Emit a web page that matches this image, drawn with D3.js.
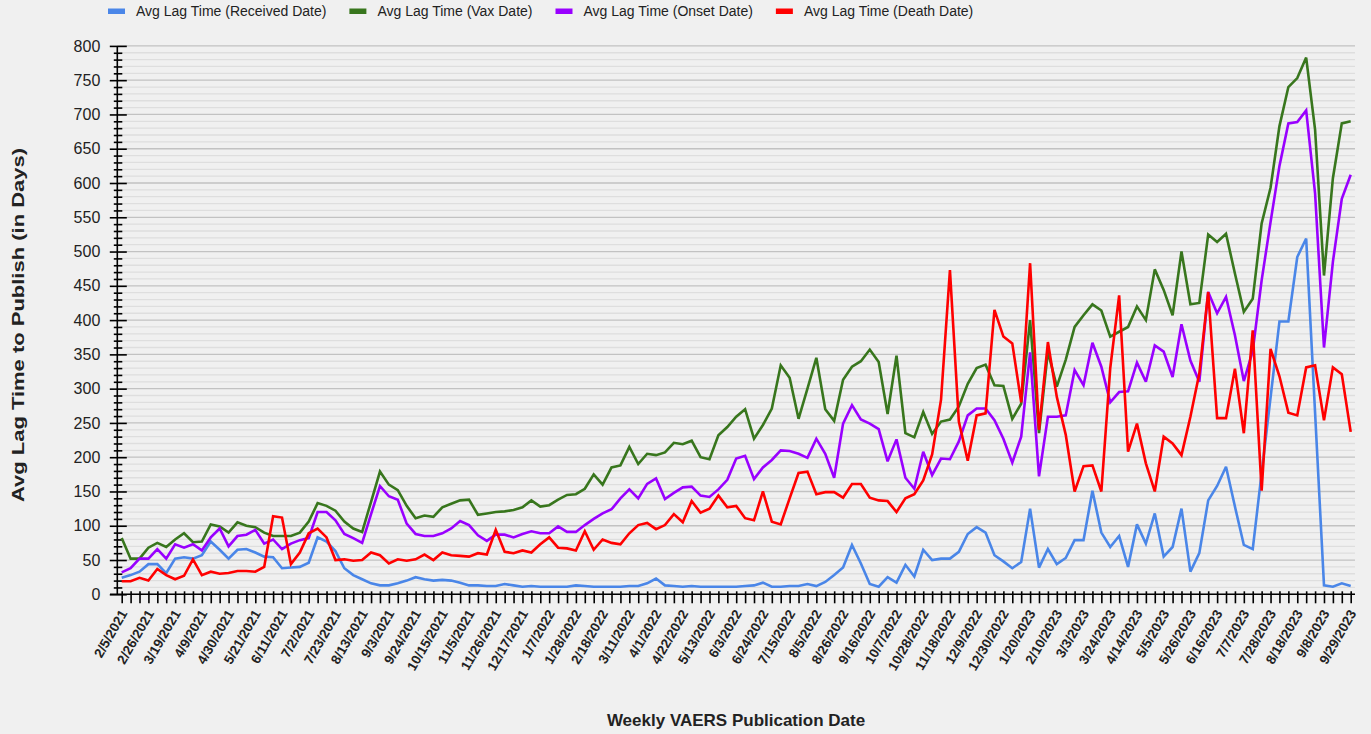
<!DOCTYPE html>
<html><head><meta charset="utf-8">
<script src="https://cdn.jsdelivr.net/npm/d3@7"></script>
<style>
html,body{margin:0;padding:0;background:#f0f0f0;}
svg{display:block;font-family:Arial,"Liberation Sans",sans-serif;}
</style></head><body>
<svg id="chart" width="1371" height="734"></svg>
<script>
// ---- data ----
const firstWeek = "2021-02-05";
const weekCount = 139;
const tickLabels = ["2/5/2021","2/26/2021","3/19/2021","4/9/2021","4/30/2021","5/21/2021","6/11/2021","7/2/2021","7/23/2021","8/13/2021","9/3/2021","9/24/2021","10/15/2021","11/5/2021","11/26/2021","12/17/2021","1/7/2022","1/28/2022","2/18/2022","3/11/2022","4/1/2022","4/22/2022","5/13/2022","6/3/2022","6/24/2022","7/15/2022","8/5/2022","8/26/2022","9/16/2022","10/7/2022","10/28/2022","11/18/2022","12/9/2022","12/30/2022","1/20/2023","2/10/2023","3/3/2023","3/24/2023","4/14/2023","5/5/2023","5/26/2023","6/16/2023","7/7/2023","7/28/2023","8/18/2023","9/8/2023","9/29/2023"];
const seriesNames = ["Avg Lag Time (Received Date)","Avg Lag Time (Vax Date)","Avg Lag Time (Onset Date)","Avg Lag Time (Death Date)"];
const seriesColors = ["#4a86e8","#38761d","#9900ff","#ff0000"];
const yTickValues = [0,50,100,150,200,250,300,350,400,450,500,550,600,650,700,750,800];

const received = [24,28,33,44,44,31,52,54,52,57,77,65,52,65,66,61,55,54,38,39,40,46,83,77,63,38,28,22,16,13,13,16,20,25,22,20,21,20,17,13,13,12,12,15,13,11,12,11,11,11,11,13,12,11,11,11,11,12,12,16,23,13,12,11,12,11,11,11,11,11,12,13,17,11,11,12,12,15,12,18,28,39,72,45,15,11,25,17,43,26,65,50,52,52,62,88,98,90,57,48,38,47,125,39,66,44,53,79,79,151,90,69,85,40,102,74,118,55,69,125,33,60,137,158,186,128,72,66,177,287,398,398,492,519,265,13,11,16,12];
const vax = [82,52,52,68,75,69,80,89,76,77,102,99,90,105,100,98,90,85,85,85,90,106,133,129,122,106,96,91,135,179,160,152,129,111,115,113,127,132,137,138,116,118,120,121,123,127,137,128,130,138,145,146,154,175,160,185,188,215,190,205,203,207,221,219,224,200,197,232,244,259,270,227,247,271,334,316,256,300,345,270,253,313,332,340,357,339,263,348,235,229,266,234,252,255,274,307,330,335,305,304,256,278,400,235,354,303,342,390,407,423,414,376,383,390,420,400,474,444,407,500,423,425,525,514,526,468,412,431,541,593,683,740,753,783,678,465,607,687,690];
const onset = [32,38,52,52,66,52,73,68,73,64,83,96,70,85,87,94,74,80,66,74,79,82,120,120,108,88,82,75,117,158,143,138,103,88,85,85,89,96,107,101,86,78,87,87,83,88,92,89,89,99,91,91,101,110,118,124,140,153,140,161,169,139,148,156,157,144,142,153,167,198,202,168,185,196,210,209,205,199,227,205,170,249,276,255,249,241,194,226,170,154,208,174,198,197,223,261,271,271,254,227,192,230,353,172,259,259,261,327,305,367,332,280,295,296,338,310,363,354,317,394,341,310,441,410,434,378,311,355,458,543,625,687,689,706,585,360,485,577,612];
const death = [19,19,24,20,37,28,22,27,51,28,33,30,31,34,34,33,40,114,112,44,61,89,96,83,50,51,49,50,61,57,45,51,49,51,58,50,61,57,56,55,60,58,94,62,60,64,61,73,83,68,67,64,92,65,80,75,73,89,101,104,95,101,117,105,136,119,125,144,127,129,111,108,150,106,102,140,177,179,146,149,149,141,161,161,141,137,136,120,140,146,166,204,284,473,252,195,261,264,415,376,366,280,483,240,368,288,233,150,187,188,150,330,436,208,249,191,150,230,220,203,259,322,441,257,257,329,235,385,151,358,318,265,261,331,334,254,331,321,237];

// ---- build ----
const parse = d3.utcParse("%Y-%m-%d");
const weeks = d3.range(weekCount).map(i => d3.utcDay.offset(parse(firstWeek), 7 * i));
const fmt = d => `${d.getUTCMonth() + 1}/${d.getUTCDate()}/${d.getUTCFullYear()}`;
const labelSet = new Set(tickLabels);
const series = [received, vax, onset, death].map((vals, k) => ({
  name: seriesNames[k], color: seriesColors[k],
  points: vals.map((v, i) => ({ date: weeks[i], value: v }))
}));

const svg = d3.select("#chart");
const axisX = 117.3, plotRight = 1355;
const x = d3.scaleUtc().domain([weeks[0], weeks[weeks.length - 1]]).range([121.7, 1350.7]);
const y = d3.scaleLinear().domain([0, 800]).range([594.3, 45.9]);

// grid
const gridVals = d3.range(0, 801, 10);
svg.append("g").selectAll("line").data(gridVals).join("line")
  .attr("x1", axisX).attr("x2", plotRight)
  .attr("y1", d => y(d)).attr("y2", d => y(d))
  .attr("stroke", d => d % 50 === 0 ? "#c2c2c2" : "#dedede")
  .attr("stroke-width", 1.3);

// y axis
const yAxis = svg.append("g").attr("transform", `translate(${axisX},0)`)
  .call(d3.axisLeft(y).tickValues(gridVals).tickSize(0)
    .tickFormat(d => yTickValues.includes(d) ? d : ""));
yAxis.select(".domain").remove();
yAxis.selectAll(".tick line")
  .attr("x1", d => d % 50 === 0 ? -7.5 : -3.5)
  .attr("x2", d => d % 50 === 0 ? 9.5 : 5)
  .attr("stroke", "#000").attr("stroke-width", 1.6);
yAxis.selectAll(".tick text").attr("x", -17).attr("font-size", 16)
  .attr("fill", "#222").attr("font-family", "Arial, 'Liberation Sans', sans-serif");
svg.append("line").attr("x1", axisX).attr("x2", axisX).attr("y1", y(800)).attr("y2", y(0))
  .attr("stroke", "#000").attr("stroke-width", 1.6);

// x axis
const xAxis = svg.append("g").attr("transform", `translate(0,${y(0)})`)
  .call(d3.axisBottom(x).tickValues(weeks).tickSize(0).tickFormat(""));
xAxis.select(".domain").remove();
xAxis.selectAll(".tick line").attr("y1", -3).attr("y2", 9)
  .attr("stroke", "#000").attr("stroke-width", 1.6);
svg.append("line").attr("x1", 110).attr("x2", plotRight).attr("y1", y(0)).attr("y2", y(0))
  .attr("stroke", "#000").attr("stroke-width", 1.6);
svg.append("g").selectAll("text").data(weeks.filter(d => labelSet.has(fmt(d)))).join("text")
  .attr("transform", d => `translate(${x(d) + 6},${y(0) + 19}) rotate(-60)`)
  .attr("text-anchor", "end").attr("font-size", 13.5).attr("font-weight", "bold")
  .attr("fill", "#222").text(d => fmt(d));

// lines
const line = d3.line().x(d => x(d.date)).y(d => y(d.value));
svg.append("g").selectAll("path").data(series).join("path")
  .attr("d", d => line(d.points)).attr("fill", "none")
  .attr("stroke", d => d.color).attr("stroke-width", 2.6)
  .attr("stroke-linejoin", "miter").attr("stroke-miterlimit", 3);

// legend
const leg = svg.append("g");
let lx = 108;
series.forEach(s => {
  leg.append("rect").attr("x", lx).attr("y", 8.5).attr("width", 17).attr("height", 5.5).attr("fill", s.color);
  const t = leg.append("text").attr("x", lx + 28).attr("y", 16).attr("font-size", 14)
    .attr("fill", "#222").text(s.name);
  lx += 28 + t.node().getComputedTextLength() + 23;
});

// axis titles
svg.append("text").attr("x", 736).attr("y", 726).attr("text-anchor", "middle")
  .attr("font-size", 17).attr("font-weight", "bold").attr("fill", "#222")
  .text("Weekly VAERS Publication Date");
svg.append("text").attr("transform", "translate(24,325) rotate(-90)").attr("text-anchor", "middle")
  .attr("font-size", 17).attr("font-weight", "bold").attr("fill", "#222")
  .attr("textLength", 354).attr("lengthAdjust", "spacingAndGlyphs")
  .text("Avg Lag Time to Publish (in Days)");
</script>
</body></html>
